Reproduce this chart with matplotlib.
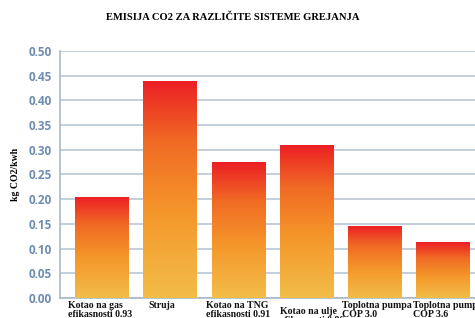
import matplotlib
matplotlib.use("Agg")
import matplotlib.pyplot as plt
import numpy as np
from matplotlib.colors import LinearSegmentedColormap

title = "EMISIJA CO2 ZA RAZLIČITE SISTEME GREJANJA"
categories = ["Kotao na gas\nefikasnosti 0.93", "Struja", "Kotao na TNG\nefikasnosti 0.91",
              "Kotao na ulje\nefikasnosti 0.86", "Toplotna pumpa\nCOP 3.0", "Toplotna pumpa\nCOP 3.6"]
values = [0.205, 0.44, 0.275, 0.31, 0.146, 0.113]
yticks = [0.0, 0.05, 0.10, 0.15, 0.20, 0.25, 0.30, 0.35, 0.40, 0.45, 0.50]
ylabel = "kg CO2/kwh"

fig = plt.figure(figsize=(4.75, 3.18), dpi=100)
ax = fig.add_axes([0.126, 0.063, 0.874, 0.777])

cmap = LinearSegmentedColormap.from_list("g", [(0.0, "#f2bd48"), (0.4, "#f5962a"), (0.72, "#f06a24"), (1.0, "#ec1e25")])
grad = np.linspace(0, 1, 256).reshape(-1, 1)
width = 0.79
x = np.arange(len(values))
bars = ax.bar(x, values, width=width, color="none", zorder=3)
for b in bars:
    x0, y0 = b.get_x(), b.get_y()
    w, h = b.get_width(), b.get_height()
    im = ax.imshow(grad, cmap=cmap, aspect="auto", origin="lower",
                   extent=[x0, x0 + w, y0, y0 + h], zorder=3)
    im.set_clip_path(b)

ax.set_xlim(-0.62, 5.47)
ax.set_ylim(0, 0.5)
ax.set_yticks(yticks)
ax.set_yticklabels([f"{t:.2f}" for t in yticks])
ax.yaxis.grid(True, color="#b3c2d2", linewidth=1.1, zorder=0)
ax.set_axisbelow(True)
for s in ["top", "right"]:
    ax.spines[s].set_visible(False)
for s in ["left", "bottom"]:
    ax.spines[s].set_color("#a9b9cb")
    ax.spines[s].set_linewidth(1.2)
ax.tick_params(axis="y", length=0, pad=5.5, labelcolor="#6f8db0", labelsize=8.5)
for lbl in ax.get_yticklabels():
    lbl.set_fontweight("bold")
    lbl.set_family("Open Sans")
ax.set_xticks([])

label_dx = [-0.1, 0.07, -0.08, -0.0, -0.08, -0.05]
label_dy = [0, 0, 0, 0.012, 0, 0]
for i, (c, b) in enumerate(zip(categories, bars)):
    ax.text(b.get_x() + label_dx[i], -0.006 - label_dy[i], c, ha="left", va="top",
            family="Liberation Serif", fontweight="bold", fontsize=7.1,
            color="#111111", linespacing=1.05)

fig.text(0.032, 0.45, ylabel, rotation=90, ha="center", va="center",
         family="Liberation Serif", fontweight="bold", fontsize=7)
fig.text(0.49, 0.945, title, ha="center", va="center",
         family="Liberation Serif", fontweight="bold", fontsize=7.6)

fig.savefig("out.png", dpi=100)
